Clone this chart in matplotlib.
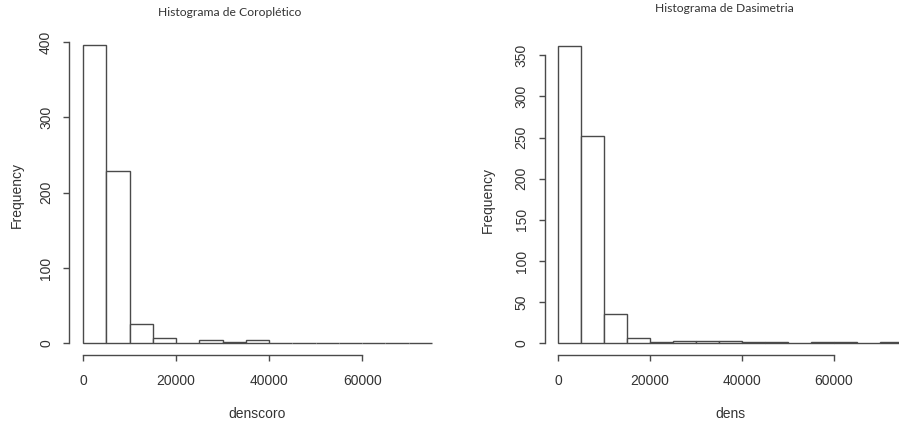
import matplotlib
matplotlib.use("Agg")
import matplotlib.pyplot as plt

# bin edges (5000-wide classes) and counts
bin_edges = [0, 5000, 10000, 15000, 20000, 25000, 30000, 35000, 40000,
             45000, 50000, 55000, 60000, 65000, 70000, 75000]
coro_counts = [396, 229, 25, 7, 1, 4, 2, 4, 1, 1, 0, 1, 1, 0, 1]
dens_counts = [361, 252, 36, 7, 1, 3, 3, 3, 2, 1, 0, 1, 1, 0, 1]

coro_yticks = [0, 100, 200, 300, 400]
dens_yticks = [0, 50, 100, 150, 200, 250, 300, 350]
xticks = [0, 20000, 40000, 60000]

W, H = 899, 426
fig = plt.figure(figsize=(W / 100, H / 100), dpi=100)
fig.patch.set_facecolor("white")

edge = "#4a4a4a"
txt = "#333333"
font = "Liberation Sans"


def px_axes(l, t, r, b):
    return fig.add_axes([l / W, 1 - b / H, (r - l) / W, (b - t) / H])


def draw(ax, counts, yticks):
    lefts = bin_edges[:-1]
    widths = [bin_edges[i + 1] - bin_edges[i] for i in range(len(lefts))]
    ax.bar(lefts, counts, width=widths, align="edge", facecolor="white",
           edgecolor=edge, linewidth=1.0)
    xmin, xmax = bin_edges[0], bin_edges[-1]
    ext = 0.04 * (xmax - xmin)
    ax.set_xlim(xmin - ext, xmax + ext)
    ymax = max(counts)
    ax.set_ylim(-0.04 * ymax, ymax * 1.04)
    for s in ["top", "right"]:
        ax.spines[s].set_visible(False)
    ax.spines["left"].set_bounds(yticks[0], yticks[-1])
    ax.spines["bottom"].set_bounds(xticks[0], xticks[-1])
    for s in ["left", "bottom"]:
        ax.spines[s].set_color(edge)
        ax.spines[s].set_linewidth(1.0)
    ax.set_xticks(xticks)
    ax.set_xticklabels([str(v) for v in xticks], fontfamily=font, fontsize=10, color=txt)
    ax.set_yticks(yticks)
    ax.set_yticklabels([str(v) for v in yticks], fontfamily=font, fontsize=10,
                       color=txt, rotation=90, va="center")
    ax.tick_params(axis="x", length=4.5, width=1.0, color=edge, pad=9)
    ax.tick_params(axis="y", length=4.5, width=1.0, color=edge, pad=7)
    ax.patch.set_alpha(0)


ax1 = px_axes(69, 33.2, 446, 355.2)
draw(ax1, coro_counts, coro_yticks)
ax2 = px_axes(544.5, 34.3, 916.7, 355.2)
draw(ax2, dens_counts, dens_yticks)

fig.text(229.5 / W, 1 - 13 / H, "Histograma de Coroplético", ha="center", va="center",
         fontfamily="Lato", fontsize=8.7, color=txt)
fig.text(724 / W, 1 - 9 / H, "Histograma de Dasimetria", ha="center", va="center",
         fontfamily="Lato", fontsize=8.7, color=txt)

fig.text(257 / W, 1 - 414 / H, "denscoro", ha="center", va="center",
         fontfamily=font, fontsize=10, color=txt)
fig.text(730 / W, 1 - 414 / H, "dens", ha="center", va="center",
         fontfamily=font, fontsize=10, color=txt)
fig.text(17 / W, 1 - 195 / H, "Frequency", ha="center", va="center", rotation=90,
         fontfamily=font, fontsize=10, color=txt)
fig.text(488 / W, 1 - 200 / H, "Frequency", ha="center", va="center", rotation=90,
         fontfamily=font, fontsize=10, color=txt)

fig.savefig("out.png", dpi=100, facecolor="white")
